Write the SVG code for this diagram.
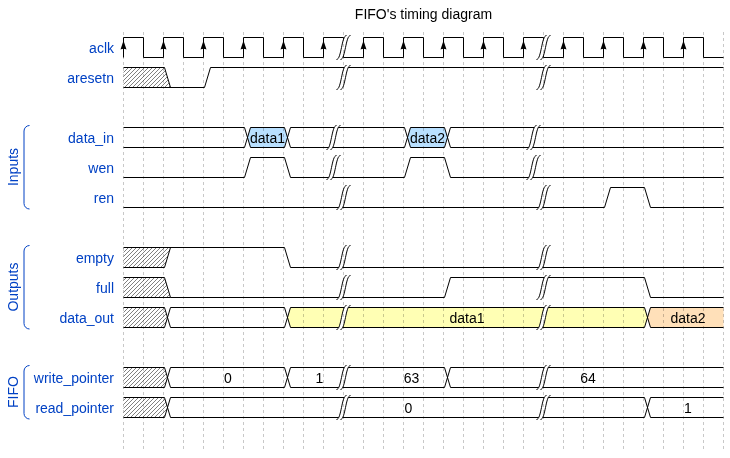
<svg xmlns="http://www.w3.org/2000/svg" width="730" height="458" viewBox="0 0 730 458">
<style>
.s{fill:none;stroke:#000;stroke-width:1}
.lbl{font-family:"Liberation Sans",Arial,sans-serif;font-size:14px;fill:#0041c4;text-anchor:end}
.grp{font-family:"Liberation Sans",Arial,sans-serif;font-size:14px;fill:#0041c4;text-anchor:middle}
.br{fill:none;stroke:#0041c4;stroke-width:1}
.dt{font-family:"Liberation Sans",Arial,sans-serif;font-size:14px;fill:#000;text-anchor:middle}
.h{fill:url(#hatch);stroke:none}
.grid{fill:none;stroke:#c8c8c8;stroke-width:1;stroke-dasharray:3,3;mix-blend-mode:multiply}
</style>
<defs>
<pattern id="hatch" width="4" height="4" patternUnits="userSpaceOnUse">
<path d="M-1,1 l2,-2 M0,4 l4,-4 M3,5 l2,-2" stroke="#000" stroke-width="0.5"/>
</pattern>
<path id="arr" d="M-3,12 0,3 3,12 C1,11 -1,11 -3,12z" fill="#000"/>
<g id="gap"><path d="M7,-2 H3 C-2,-2 -2,22 -7,22 H-3 C2,22 2,-2 7,-2 Z" fill="#fff"/><path class="s" d="M-7,22 C-2,22 -2,-2 3,-2"/><path class="s" d="M-3,22 C2,22 2,-2 7,-2"/></g>
</defs>
<rect width="730" height="458" fill="#fff"/>
<text x="423.5" y="19" class="dt">FIFO's timing diagram</text>

<g id="groups">
<path class="br" d="M29.5,125.5 c-3,0 -5.5,2.5 -5.5,5.5 V203.5 c0,3 2.5,5.5 5.5,5.5"/>
<text class="grp" transform="translate(18,167) rotate(-90)">Inputs</text>
<path class="br" d="M29.5,245.5 c-3,0 -5.5,2.5 -5.5,5.5 V323.5 c0,3 2.5,5.5 5.5,5.5"/>
<text class="grp" transform="translate(18,287) rotate(-90)">Outputs</text>
<path class="br" d="M29.5,365.5 c-3,0 -5.5,2.5 -5.5,5.5 V413.5 c0,3 2.5,5.5 5.5,5.5"/>
<text class="grp" transform="translate(18,392) rotate(-90)">FIFO</text>
</g>

<g id="lane-aclk">
<text x="114" y="52.5" class="lbl">aclk</text>
<path class="s" d="M123.5,57.5 V37.5 H143.5 V57.5 H163.5 V37.5 H183.5 V57.5 H203.5 V37.5 H223.5 V57.5 H243.5 V37.5 H263.5 V57.5 H283.5 V37.5 H303.5 V57.5 H323.5 V37.5 H343.5 V57.5 H363.5 V37.5 H383.5 V57.5 H403.5 V37.5 H423.5 V57.5 H443.5 V37.5 H463.5 V57.5 H483.5 V37.5 H503.5 V57.5 H523.5 V37.5 H543.5 V57.5 H563.5 V37.5 H583.5 V57.5 H603.5 V37.5 H623.5 V57.5 H643.5 V37.5 H663.5 V57.5 H683.5 V37.5 H703.5 V57.5 H723.5"/>
<use href="#arr" x="123.5" y="37.5"/><use href="#arr" x="163.5" y="37.5"/><use href="#arr" x="203.5" y="37.5"/><use href="#arr" x="243.5" y="37.5"/><use href="#arr" x="283.5" y="37.5"/><use href="#arr" x="323.5" y="37.5"/><use href="#arr" x="363.5" y="37.5"/><use href="#arr" x="403.5" y="37.5"/><use href="#arr" x="443.5" y="37.5"/><use href="#arr" x="483.5" y="37.5"/><use href="#arr" x="523.5" y="37.5"/><use href="#arr" x="563.5" y="37.5"/><use href="#arr" x="603.5" y="37.5"/><use href="#arr" x="643.5" y="37.5"/><use href="#arr" x="683.5" y="37.5"/>
<use href="#gap" x="343.5" y="37.5"/><use href="#gap" x="543.5" y="37.5"/>
</g>

<g id="lane-aresetn">
<text x="114" y="82.5" class="lbl">aresetn</text>
<polygon class="h" points="123.5,67.5 164.5,67.5 170.5,87.5 123.5,87.5"/>
<path class="s" d="M123.5,67.5 H164.5 L170.5,87.5 M123.5,87.5 H204.5 L210.5,67.5 H723.5"/>
<use href="#gap" x="343.5" y="67.5"/><use href="#gap" x="543.5" y="67.5"/>
</g>

<g id="lane-data_in">
<text x="114" y="142.5" class="lbl">data_in</text>
<polygon fill="#b9e0ff" points="247.5,137.5 250.5,127.5 284.5,127.5 287.5,137.5 284.5,147.5 250.5,147.5"/>
<polygon fill="#b9e0ff" points="407.5,137.5 410.5,127.5 444.5,127.5 447.5,137.5 444.5,147.5 410.5,147.5"/>
<path class="s" d="M123.5,127.5 H244.5 L250.5,147.5 H284.5 L290.5,127.5 H404.5 L410.5,147.5 H444.5 L450.5,127.5 H723.5 M123.5,147.5 H244.5 L250.5,127.5 H284.5 L290.5,147.5 H404.5 L410.5,127.5 H444.5 L450.5,147.5 H723.5"/>
<text x="267.5" y="142.5" class="dt">data1</text>
<text x="427.5" y="142.5" class="dt">data2</text>
<use href="#gap" x="333.5" y="127.5"/><use href="#gap" x="533.5" y="127.5"/>
</g>

<g id="lane-wen">
<text x="114" y="172.5" class="lbl">wen</text>
<path class="s" d="M123.5,177.5 H244.5 L250.5,157.5 H284.5 L290.5,177.5 H404.5 L410.5,157.5 H444.5 L450.5,177.5 H723.5"/>
<use href="#gap" x="333.5" y="157.5"/><use href="#gap" x="533.5" y="157.5"/>
</g>

<g id="lane-ren">
<text x="114" y="202.5" class="lbl">ren</text>
<path class="s" d="M123.5,207.5 H604.5 L610.5,187.5 H644.5 L650.5,207.5 H723.5"/>
<use href="#gap" x="343.5" y="187.5"/><use href="#gap" x="543.5" y="187.5"/>
</g>

<g id="lane-empty">
<text x="114" y="262.5" class="lbl">empty</text>
<polygon class="h" points="123.5,247.5 170.5,247.5 164.5,267.5 123.5,267.5"/>
<path class="s" d="M123.5,247.5 H284.5 L290.5,267.5 H723.5 M123.5,267.5 H164.5 L170.5,247.5"/>
<use href="#gap" x="343.5" y="247.5"/><use href="#gap" x="543.5" y="247.5"/>
</g>

<g id="lane-full">
<text x="114" y="292.5" class="lbl">full</text>
<polygon class="h" points="123.5,277.5 164.5,277.5 170.5,297.5 123.5,297.5"/>
<path class="s" d="M123.5,277.5 H164.5 L170.5,297.5 H444.5 L450.5,277.5 H644.5 L650.5,297.5 H723.5 M123.5,297.5 H170.5"/>
<use href="#gap" x="343.5" y="277.5"/><use href="#gap" x="543.5" y="277.5"/>
</g>

<g id="lane-data_out">
<text x="114" y="322.5" class="lbl">data_out</text>
<polygon class="h" points="123.5,307.5 164.5,307.5 167.5,317.5 164.5,327.5 123.5,327.5"/>
<polygon fill="#ffffb4" points="287.5,317.5 290.5,307.5 644.5,307.5 647.5,317.5 644.5,327.5 290.5,327.5"/>
<polygon fill="#ffe0b9" points="647.5,317.5 650.5,307.5 723.5,307.5 723.5,327.5 650.5,327.5"/>
<path class="s" d="M123.5,307.5 H164.5 L170.5,327.5 H284.5 L290.5,307.5 H644.5 L650.5,327.5 H723.5 M123.5,327.5 H164.5 L170.5,307.5 H284.5 L290.5,327.5 H644.5 L650.5,307.5 H723.5"/>
<text x="467" y="322.5" class="dt">data1</text>
<text x="688" y="322.5" class="dt">data2</text>
<use href="#gap" x="343.5" y="307.5"/><use href="#gap" x="543.5" y="307.5"/>
</g>

<g id="lane-write_pointer">
<text x="114" y="382.5" class="lbl">write_pointer</text>
<polygon class="h" points="123.5,367.5 164.5,367.5 167.5,377.5 164.5,387.5 123.5,387.5"/>
<path class="s" d="M123.5,367.5 H164.5 L170.5,387.5 H284.5 L290.5,367.5 H444.5 L450.5,387.5 H723.5 M123.5,387.5 H164.5 L170.5,367.5 H284.5 L290.5,387.5 H444.5 L450.5,367.5 H723.5"/>
<text x="228" y="382.5" class="dt">0</text>
<text x="319.5" y="382.5" class="dt">1</text>
<text x="411.5" y="382.5" class="dt">63</text>
<text x="588" y="382.5" class="dt">64</text>
<use href="#gap" x="343.5" y="367.5"/><use href="#gap" x="543.5" y="367.5"/>
</g>

<g id="lane-read_pointer">
<text x="114" y="412.5" class="lbl">read_pointer</text>
<polygon class="h" points="123.5,397.5 164.5,397.5 167.5,407.5 164.5,417.5 123.5,417.5"/>
<path class="s" d="M123.5,397.5 H164.5 L170.5,417.5 H644.5 L650.5,397.5 H723.5 M123.5,417.5 H164.5 L170.5,397.5 H644.5 L650.5,417.5 H723.5"/>
<text x="408.5" y="412.5" class="dt">0</text>
<text x="688" y="412.5" class="dt">1</text>
<use href="#gap" x="343.5" y="397.5"/><use href="#gap" x="543.5" y="397.5"/>
</g>

<g id="grid">
<path class="grid" d="M123.5,32V452M143.5,32V452M163.5,32V452M183.5,32V452M203.5,32V452M223.5,32V452M243.5,32V452M263.5,32V452M283.5,32V452M303.5,32V452M323.5,32V452M343.5,32V452M363.5,32V452M383.5,32V452M403.5,32V452M423.5,32V452M443.5,32V452M463.5,32V452M483.5,32V452M503.5,32V452M523.5,32V452M543.5,32V452M563.5,32V452M583.5,32V452M603.5,32V452M623.5,32V452M643.5,32V452M663.5,32V452M683.5,32V452M703.5,32V452M723.5,32V452"/>
</g>
</svg>
